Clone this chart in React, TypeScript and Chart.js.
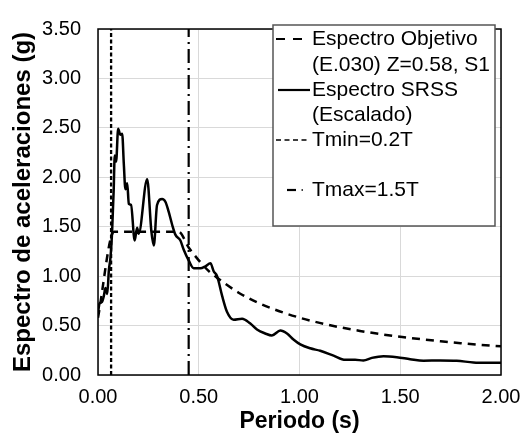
import React, { useEffect, useRef } from "react";
import { Chart, registerables } from "chart.js";

Chart.register(...registerables);

// Espectro SRSS (Escalado)
const srssT = [0, 0.007, 0.02, 0.029, 0.037, 0.046, 0.054, 0.062, 0.07, 0.078, 0.083, 0.09, 0.1, 0.111, 0.12, 0.128, 0.136, 0.145, 0.153, 0.164, 0.182, 0.194, 0.202, 0.244, 0.265, 0.277, 0.293, 0.318, 0.335, 0.351, 0.368, 0.384, 0.409, 0.425, 0.45, 0.475, 0.508, 0.533, 0.558, 0.574, 0.591, 0.616, 0.64, 0.673, 0.715, 0.756, 0.789, 0.83, 0.863, 0.905, 0.938, 0.97, 1.004, 1.053, 1.103, 1.169, 1.227, 1.276, 1.317, 1.359, 1.417, 1.483, 1.549, 1.615, 1.698, 1.78, 1.863, 1.93, 2.0];
const srssSa = [0.62, 0.72, 0.74, 0.8, 0.88, 0.82, 1.06, 1.19, 1.45, 1.88, 2.22, 2.16, 2.49, 2.43, 2.44, 2.14, 1.88, 1.94, 1.73, 1.72, 1.36, 1.49, 1.43, 1.98, 1.45, 1.31, 1.72, 1.78, 1.75, 1.65, 1.52, 1.42, 1.36, 1.27, 1.16, 1.08, 1.08, 1.1, 1.13, 1.05, 1.0, 0.8, 0.64, 0.56, 0.57, 0.52, 0.46, 0.42, 0.4, 0.45, 0.42, 0.36, 0.31, 0.27, 0.245, 0.196, 0.154, 0.154, 0.147, 0.173, 0.19, 0.18, 0.16, 0.144, 0.147, 0.144, 0.127, 0.124, 0.124];

// Espectro Objetivo (E.030)
const objT = [0, 0.08, 0.4, 0.45, 0.5, 0.55, 0.6, 0.7, 0.8, 0.9, 1.0, 1.1, 1.2, 1.3, 1.4, 1.5, 1.6, 1.7, 1.8, 1.9, 2.0];
const objSa = [0.58, 1.45, 1.45, 1.29, 1.16, 1.05, 0.97, 0.83, 0.725, 0.645, 0.58, 0.527, 0.483, 0.446, 0.414, 0.387, 0.3625, 0.341, 0.322, 0.305, 0.29];

// Limits
const tminT = 0.065;
const tmaxT = 0.45;
const yRange = [0, 3.5];

const xTicks = [0, 0.5, 1.0, 1.5, 2.0];

const legendLabels = [
  ["Espectro Objetivo", "(E.030) Z=0.58, S1"],
  ["Espectro SRSS", "(Escalado)"],
  ["Tmin=0.2T"],
  ["Tmax=1.5T"],
];

const FONT = "'Liberation Sans', Arial, sans-serif";

const frameAndLegend = {
  id: "frameAndLegend",
  afterDraw(chart: any) {
    const { ctx, chartArea } = chart;
    ctx.save();
    ctx.strokeStyle = "#000";
    ctx.lineWidth = 1.5;
    ctx.setLineDash([]);
    ctx.strokeRect(chartArea.left, chartArea.top, chartArea.right - chartArea.left, chartArea.bottom - chartArea.top);

    // legend box
    const bx = 273, by = 25, bw = 222, bh = 201;
    ctx.fillStyle = "#fff";
    ctx.fillRect(bx, by, bw, bh);
    ctx.strokeStyle = "#555";
    ctx.lineWidth = 1.5;
    ctx.strokeRect(bx, by, bw, bh);

    const rowsY = [[39, 65], [90, 115], [140], [190]];
    ctx.strokeStyle = "#000";
    const seg = (x1: number, x2: number, y: number, w: number, dash: number[]) => {
      ctx.lineWidth = w;
      ctx.setLineDash(dash);
      ctx.beginPath();
      ctx.moveTo(x1, y);
      ctx.lineTo(x2, y);
      ctx.stroke();
    };
    // samples
    seg(276, 304, rowsY[0][0], 2.2, [9, 8]);
    seg(278, 310, rowsY[1][0], 2.2, []);
    seg(276, 310, rowsY[2][0], 1.6, [5, 3.5]);
    seg(287, 296, rowsY[3][0], 2.2, []);
    seg(301.5, 303, rowsY[3][0], 1.5, []);
    ctx.setLineDash([]);

    ctx.font = `21px ${FONT}`;
    ctx.fillStyle = "#000";
    ctx.textBaseline = "middle";
    ctx.textAlign = "left";
    legendLabels.forEach((lines, i) => {
      lines.forEach((t, j) => ctx.fillText(t, 312, rowsY[i][j]));
    });
    ctx.restore();
  },
};

export default function App() {
  const ref = useRef<HTMLCanvasElement>(null);
  useEffect(() => {
    const chart = new Chart(ref.current!, {
      type: "line",
      data: {
        datasets: [
          {
            label: "Espectro Objetivo (E.030) Z=0.58, S1",
            data: objT.map((t, i) => ({ x: t, y: objSa[i] })),
            borderColor: "#000",
            borderWidth: 2.5,
            borderDash: [8, 6],
            pointRadius: 0,
            cubicInterpolationMode: "monotone",
          },
          {
            label: "Espectro SRSS (Escalado)",
            data: srssT.map((t, i) => ({ x: t, y: srssSa[i] })),
            borderColor: "#000",
            borderWidth: 2.5,
            pointRadius: 0,
            cubicInterpolationMode: "monotone",
          },
          {
            label: "Tmin=0.2T",
            data: yRange.map((y) => ({ x: tminT, y })),
            borderColor: "#000",
            borderWidth: 2.3,
            borderDash: [4, 2.5],
            pointRadius: 0,
          },
          {
            label: "Tmax=1.5T",
            data: yRange.map((y) => ({ x: tmaxT, y })),
            borderColor: "#000",
            borderWidth: 2.2,
            borderDash: [14, 5, 2, 5],
            pointRadius: 0,
          },
        ],
      },
      options: {
        animation: false,
        responsive: true,
        maintainAspectRatio: false,
        layout: { padding: { top: 18, right: 25, left: 0, bottom: 0 } },
        plugins: { legend: { display: false }, tooltip: { enabled: false } },
        scales: {
          x: {
            type: "linear",
            min: 0,
            max: 2,
            afterBuildTicks: (s: any) => {
              s.ticks = xTicks.map((v) => ({ value: v }));
            },
            afterFit: (s: any) => {
              s.height = 62;
              s.paddingLeft = 0;
              s.paddingRight = 0;
            },
            ticks: {
              callback: (v: any) => Number(v).toFixed(2),
              font: { family: FONT, size: 20 },
              color: "#000",
              padding: 10,
              maxRotation: 0,
            },
            grid: { color: "#d9d9d9", lineWidth: 1, drawTicks: false },
            border: { display: false },
            title: {
              display: true,
              text: "Periodo (s)",
              font: { family: FONT, size: 23, weight: "bold" },
              color: "#000",
              padding: { top: 0, bottom: 2 },
            },
          },
          y: {
            min: 0,
            max: 3.5,
            ticks: {
              stepSize: 0.5,
              callback: (v: any) => Number(v).toFixed(2),
              font: { family: FONT, size: 20 },
              color: "#000",
              padding: 17,
            },
            afterFit: (s: any) => {
              s.width = 98;
            },
            grid: { color: "#d9d9d9", lineWidth: 1, drawTicks: false },
            border: { display: false },
            title: {
              display: true,
              text: "Espectro de aceleraciones (g)",
              font: { family: FONT, size: 24, weight: "bold" },
              color: "#000",
              padding: { top: 9, bottom: 0 },
            },
          },
        },
      },
      plugins: [frameAndLegend],
    });
    return () => chart.destroy();
  }, []);
  return (
    <div style={{ position: "fixed", left: 0, top: 0, width: 526, height: 437, background: "#fff" }}>
      <canvas ref={ref} />
    </div>
  );
}
